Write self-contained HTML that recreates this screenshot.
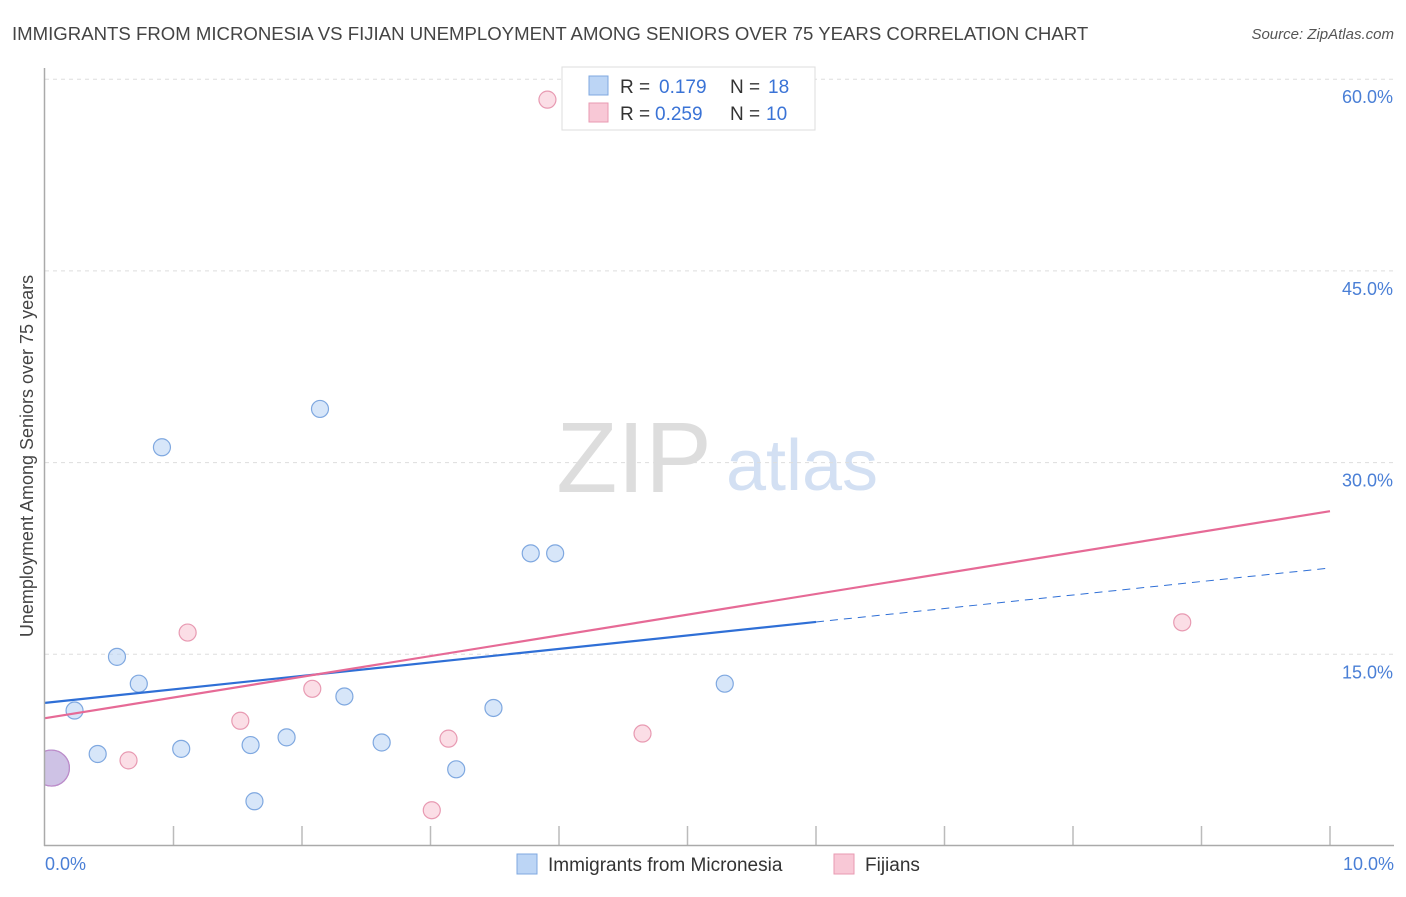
<!DOCTYPE html>
<html><head><meta charset="utf-8"><style>
body{margin:0;background:#fff;font-family:"Liberation Sans",sans-serif;}
svg text{font-family:"Liberation Sans",sans-serif;}
</style></head><body>
<svg id="chart" width="1406" height="892" viewBox="0 0 1406 892">
<text x="12" y="40" font-size="18.6" fill="#444">IMMIGRANTS FROM MICRONESIA VS FIJIAN UNEMPLOYMENT AMONG SENIORS OVER 75 YEARS CORRELATION CHART</text>
<text x="1394" y="39" font-size="15" fill="#555" font-style="italic" text-anchor="end">Source: ZipAtlas.com</text>
<text transform="translate(33,456) rotate(-90)" font-size="18" fill="#444" text-anchor="middle">Unemployment Among Seniors over 75 years</text>
<g>
<text x="634" y="492" font-size="100" fill="#ddd" font-family="Liberation Serif" text-anchor="middle">ZIP</text>
<text x="802" y="490" font-size="72" fill="#d3e0f3" text-anchor="middle">atlas</text>
</g>
<g id="grid"></g>
<g id="marks"></g>
<line x1="44.5" y1="68" x2="44.5" y2="846" stroke="#aaa" stroke-width="1.5"/>
<line x1="44" y1="845.5" x2="1394" y2="845.5" stroke="#aaa" stroke-width="1.5"/>
<text x="45" y="870" font-size="18" fill="#4a7fd6">0.0%</text>
<text x="1394" y="870" font-size="18" fill="#4a7fd6" text-anchor="end">10.0%</text>
<g>
<rect x="562" y="67" width="253" height="63" fill="#fff" stroke="#ddd"/>
<rect x="589" y="76" width="19" height="19" fill="#bcd5f5" stroke="#7fa8e0"/>
<text x="620" y="93" font-size="19" fill="#333">R =</text>
<text x="659" y="93" font-size="19" fill="#3a73d6">0.179</text>
<text x="730" y="93" font-size="19" fill="#333">N =</text>
<text x="768" y="93" font-size="19" fill="#3a73d6">18</text>
<rect x="589" y="103" width="19" height="19" fill="#f8c8d6" stroke="#e89ab2"/>
<text x="620" y="120" font-size="19" fill="#333">R =</text>
<text x="655" y="120" font-size="19" fill="#3a73d6">0.259</text>
<text x="730" y="120" font-size="19" fill="#333">N =</text>
<text x="766" y="120" font-size="19" fill="#3a73d6">10</text>
</g>
<g>
<rect x="517" y="854" width="20" height="20" fill="#bcd5f5" stroke="#7fa8e0"/>
<text x="548" y="871" font-size="19" fill="#333">Immigrants from Micronesia</text>
<rect x="834" y="854" width="20" height="20" fill="#f8c8d6" stroke="#e89ab2"/>
<text x="865" y="871" font-size="19" fill="#333">Fijians</text>
</g>
</svg>
<script>
const yTicks=[15,30,45,60];
const yTickLabels=["15.0%","30.0%","45.0%","60.0%"];
const xTicks=[0,1,2,3,4,5,6,7,8,9,10];
const blueX=[0.23,0.41,0.56,0.73,0.91,1.06,1.60,1.63,1.88,2.14,2.33,2.62,3.20,3.49,3.78,3.97,5.29,0.05];
const blueY=[10.6,7.2,14.8,12.7,31.2,7.6,7.9,3.5,8.5,34.2,11.7,8.1,6.0,10.8,22.9,22.9,12.7,6.1];
const pinkX=[3.91,1.11,0.65,1.52,2.08,3.14,3.01,4.65,8.85,0.05];
const pinkY=[58.4,16.7,6.7,9.8,12.3,8.4,2.8,8.8,17.5,6.1];
const blueLine=[11.2,21.75];
const pinkLine=[10.0,26.2];
const blueSolidEnd=6;
const NS="http://www.w3.org/2000/svg";
const sx=v=>45+v*128.5;
const sy=v=>846-v*12.78;
function mk(t,a,p){const e=document.createElementNS(NS,t);for(const k in a)e.setAttribute(k,a[k]);p.appendChild(e);return e;}
const grid=document.getElementById('grid'),marks=document.getElementById('marks');
yTicks.forEach((t,i)=>{
 const l=mk('line',{x1:45,x2:1394,y1:sy(t),y2:sy(t),stroke:'#ddd','stroke-dasharray':'4,4'},grid);
 
 
 const tx=mk('text',{x:1393,y:sy(t)+24,'font-size':18,fill:'#4a7fd6','text-anchor':'end'},grid);
 tx.textContent=yTickLabels[i];
 
 
});
xTicks.forEach(t=>{
 if(t===0)return;
 const l=mk('line',{x1:sx(t),x2:sx(t),y1:826,y2:846,stroke:'#bbb','stroke-width':1.5},grid);
 
 
});
const clip=mk('clipPath',{id:'pc'},mk('defs',{},marks));
mk('rect',{x:45,y:60,width:1360,height:786},clip);
const g=mk('g',{'clip-path':'url(#pc)'},marks);
function pt(x,y,fill,stroke,name,big){
 const c=mk('circle',{cx:sx(x),cy:sy(y),r:big?18:8.5,fill:fill,stroke:stroke,'stroke-width':1.2},g);
 
 
}
blueX.forEach((x,i)=>pt(x,blueY[i],'rgba(188,213,245,0.6)','#7fa8e0','micronesia-point',i===blueX.length-1));
pinkX.forEach((x,i)=>pt(x,pinkY[i],i===pinkX.length-1?'rgba(200,170,215,0.6)':'rgba(248,200,214,0.6)',i===pinkX.length-1?'#c08ac8':'#e89ab2','fijians-point',i===pinkX.length-1));
const by=x=>blueLine[0]+(blueLine[1]-blueLine[0])*x/10;
let l=mk('line',{x1:sx(0),y1:sy(by(0)),x2:sx(blueSolidEnd),y2:sy(by(blueSolidEnd)),stroke:'#2f6fd6','stroke-width':2.2},marks);


l=mk('line',{x1:sx(blueSolidEnd),y1:sy(by(blueSolidEnd)),x2:sx(10),y2:sy(by(10)),stroke:'#2f6fd6','stroke-width':1,'stroke-dasharray':'8,6'},marks);


l=mk('line',{x1:sx(0),y1:sy(pinkLine[0]),x2:sx(10),y2:sy(pinkLine[1]),stroke:'#e66a96','stroke-width':2.2},marks);


</script>
</body></html>
